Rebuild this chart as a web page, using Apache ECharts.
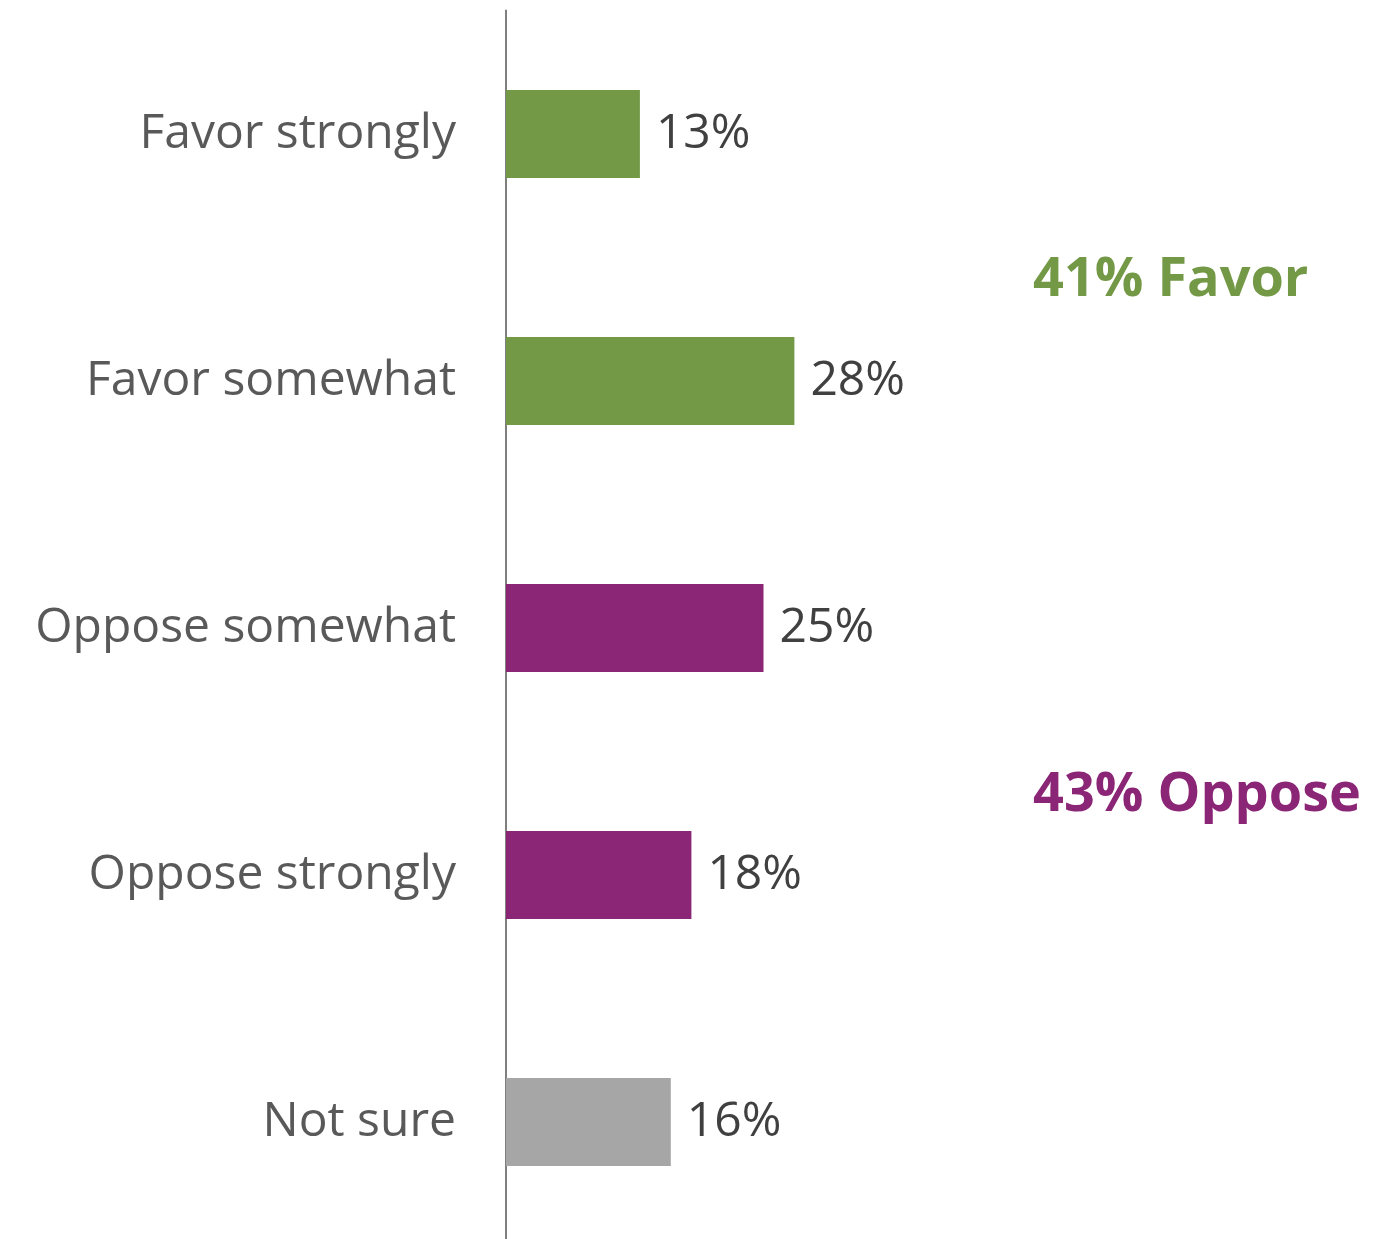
<!DOCTYPE html>
<html><head><meta charset="utf-8">
<script src="https://cdn.jsdelivr.net/npm/echarts@6/dist/echarts.min.js"></script>
<style>html,body{margin:0;padding:0;background:#fff}#c{width:1398px;height:1239px}</style>
</head><body><div id="c"></div>
<script>
const categories = ["Favor strongly", "Favor somewhat", "Oppose somewhat", "Oppose strongly", "Not sure"];
const values = [13, 28, 25, 18, 16];
const barColors = ["#739846", "#739846", "#8B2575", "#8B2575", "#A6A6A6"];
const summaryTexts = ["41% Favor", "43% Oppose"];
const summaryColors = ["#739846", "#8B2575"];

const chart = echarts.init(document.getElementById('c'), null, {renderer: 'canvas'});
const font = '"Open Sans", sans-serif';
chart.setOption({
  animation: false,
  grid: {left: 506, width: 824, top: 10.5, height: 1235, containLabel: false, outerBoundsMode: 'none'},
  xAxis: {type: 'value', min: 0, max: 80, show: false},
  yAxis: {
    type: 'category', data: categories, inverse: true,
    axisLine: {show: true, lineStyle: {color: '#7F7F7F', width: 2}},
    axisTick: {show: false},
    axisLabel: {color: '#595959', fontSize: 48, fontFamily: font, margin: 50}
  },
  series: [{
    type: 'bar', barWidth: 88,
    data: values.map((v, i) => ({value: v, itemStyle: {color: barColors[i]}})),
    label: {show: true, position: 'right', distance: 16, formatter: '{c}%', color: '#404040', fontSize: 48, fontFamily: font}
  }],
  graphic: [
    {type: 'text', left: 1033, top: 254, style: {text: summaryTexts[0], fill: summaryColors[0], font: 'bold 54px "Open Sans", sans-serif'}},
    {type: 'text', left: 1033, top: 769, style: {text: summaryTexts[1], fill: summaryColors[1], font: 'bold 54px "Open Sans", sans-serif'}}
  ]
});
</script></body></html>
